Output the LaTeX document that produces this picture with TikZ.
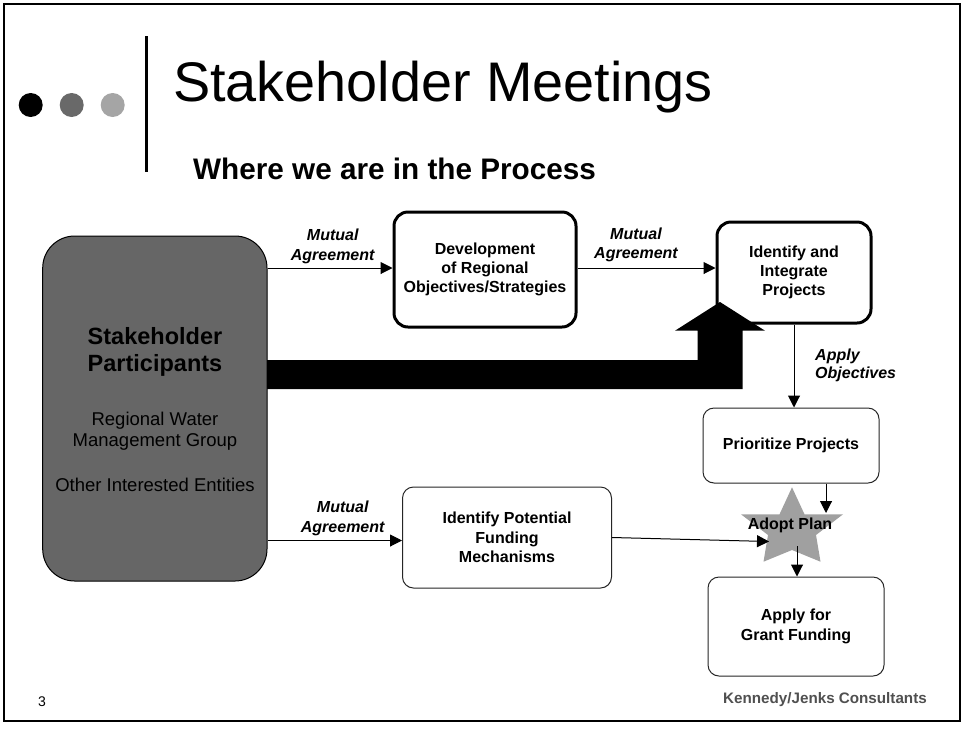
\documentclass[tikz,border=0pt]{standalone}
\usepackage{fontspec}
\setmainfont{Liberation Sans}
\usetikzlibrary{arrows.meta,calc}
\definecolor{stakegray}{RGB}{102,102,102}
\definecolor{dotmid}{RGB}{105,105,105}
\definecolor{dotlight}{RGB}{165,165,165}
\definecolor{stargray}{RGB}{160,160,160}
\definecolor{kjgray}{RGB}{80,80,80}
\newcommand\skbox{\bfseries\fontsize{16}{19.3}\selectfont}
\newcommand\sklbl{\bfseries\itshape\fontsize{16}{19.5}\selectfont}
\begin{document}
\begin{tikzpicture}[x=1pt,y=-1pt,
  thickbox/.style={draw=black, line width=3pt, rounded corners=14pt, fill=white, align=center, inner sep=0pt, font=\skbox},
  thinbox/.style={draw=black!85, line width=1pt, rounded corners=11pt, fill=white, align=center, inner sep=0pt, font=\skbox},
  conn/.style={line width=1pt, -{Triangle[length=12pt,width=12pt]}},
  lbl/.style={inner sep=0pt, align=center, font=\sklbl},
  plain/.style={inner sep=0pt}
]
\useasboundingbox (0,0) rectangle (965,729);
\fill[white] (0,0) rectangle (965,729);
\draw[line width=2.5pt] (4,4) rectangle (960,721);

% header
\fill[black] (30.7,105) circle[radius=12pt];
\fill[dotmid] (71.7,105) circle[radius=12pt];
\fill[dotlight] (112.7,105) circle[radius=12pt];
\draw[line width=3pt] (146,36) -- (146,171.7);
\node[plain, anchor=base west, font=\fontsize{55.8}{62}\selectfont] (title) at (173,101.7) {Stakeholder Meetings};
\node[plain, anchor=base west, font=\bfseries\fontsize{29.7}{34}\selectfont] (sub) at (193,179) {Where we are in the Process};

% stakeholder box
\node[draw=black, line width=1pt, fill=stakegray, rounded corners=32pt, minimum width=224.3pt, minimum height=345pt, inner sep=0pt] (stake) at (154.85,408.5) {};
\node[plain, anchor=base, font=\bfseries\fontsize{23.5}{28}\selectfont] (sh1) at (155,344) {Stakeholder};
\node[plain, anchor=base, font=\bfseries\fontsize{23.5}{28}\selectfont] (sh2) at (155,371.7) {Participants};
\node[plain, anchor=base, font=\fontsize{18.5}{21}\selectfont] (rw1) at (155,425) {Regional Water};
\node[plain, anchor=base, font=\fontsize{18.5}{21}\selectfont] (rw2) at (155,446) {Management Group};
\node[plain, anchor=base, font=\fontsize{18.5}{21}\selectfont] (oie) at (155,491.7) {Other Interested Entities};

% process boxes
\node[thickbox, minimum width=182pt, minimum height=115pt] (dev) at (485,269.5) {Development\\of Regional\\Objectives/Strategies};
\node[thickbox, minimum width=154pt, minimum height=101pt] (ident) at (794,272.5) {Identify and\\Integrate\\Projects};
\node[thinbox, minimum width=176pt, minimum height=75pt] (prio) at (791,445.5) {Prioritize Projects};
\node[thinbox, minimum width=209pt, minimum height=101pt] (fund) at (507,537.5) {Identify Potential\\Funding\\Mechanisms};
\node[thinbox, minimum width=176pt, minimum height=99pt] (apply) at (796,626.5) {Apply for\\Grant Funding};

% big black arrow
\fill[black] (267,360) -- (697.5,360) -- (697.5,330.7) -- (675,330.7) -- (720,302) -- (765,330.7) -- (742.5,330.7) -- (742.5,389) -- (267,389) -- cycle;

% star
\fill[stargray] (792,487.3) -- (804.5,514.3) -- (843,514.3) -- (816,535) -- (820.5,561.7) -- (792,550) -- (763.5,561.7) -- (768,535) -- (741,514.3) -- (779.5,514.3) -- cycle;
\node[plain, font=\skbox] (adopt) at (790,525.5) {Adopt Plan};
\coordinate (starN) at (826,513);
\coordinate (starW) at (769,541.5);
\coordinate (starS) at (797,546);

% connectors
\draw[conn] ([yshift=1.5pt]dev.west -| stake.east) -- ([yshift=1.5pt]dev.west);
\draw[conn] ([yshift=1.5pt]dev.east) -- ([yshift=1.5pt]dev.east -| ident.west);
\draw[conn] (ident.south) -- (ident.south |- prio.north);
\draw[conn] (starN |- prio.south) -- (starN);
\draw[conn] (fund.east) -- (starW);
\draw[conn] (starS) -- (starS |- apply.north);
\draw[conn] ([yshift=-3pt]fund.west -| stake.east) -- ([yshift=-3pt]fund.west);

% labels
\node[lbl] (ma1) at (332.7,246.6) {Mutual\\Agreement};
\node[lbl] (ma2) at (636,245) {Mutual\\Agreement};
\node[lbl] (ma3) at (342.7,518.3) {Mutual\\Agreement};
\node[lbl, align=left, anchor=west, font=\bfseries\itshape\fontsize{16}{17.7}\selectfont] (apobj) at (815,365.6) {Apply\\Objectives};

% footer
\node[plain, anchor=base, font=\fontsize{14}{16}\selectfont] (pgnum) at (42,706) {3};
\node[plain, anchor=base, text=kjgray, font=\bfseries\fontsize{15.2}{18}\selectfont] (kj) at (825,703.3) {Kennedy/Jenks Consultants};
\end{tikzpicture}
\end{document}
